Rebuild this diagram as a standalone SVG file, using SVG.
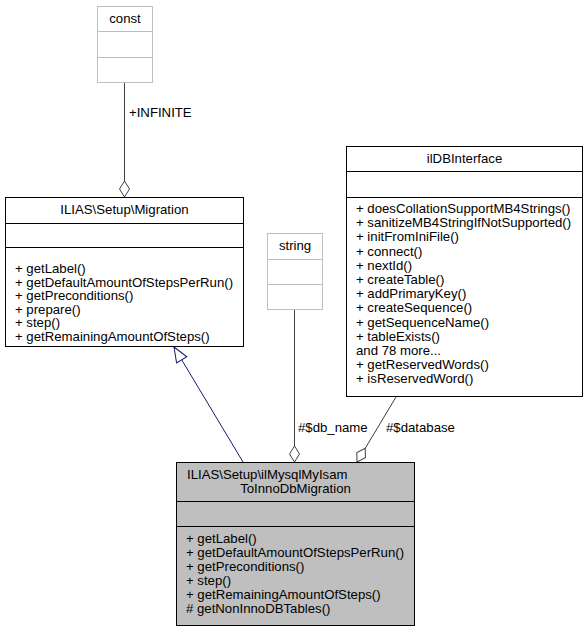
<svg xmlns="http://www.w3.org/2000/svg" width="588" height="632" viewBox="0 0 588 632">
<style>
text{font-family:"Liberation Sans",Arial,sans-serif;font-size:13.2px;fill:#000}
.c{text-anchor:middle}
.box{fill:#fff;stroke:#000;stroke-width:1}
.ext{fill:#fff;stroke:#bfbfbf;stroke-width:1}
.main{fill:#bfbfbf;stroke:#000;stroke-width:1}
.dv{stroke:#000;stroke-width:1}
.dvx{stroke:#bfbfbf;stroke-width:1}
.agg{fill:none;stroke:#404040;stroke-width:1}
.inh{fill:none;stroke:#191970;stroke-width:1}
</style>
<defs>
<marker id="dia" markerUnits="userSpaceOnUse" markerWidth="18" markerHeight="12" viewBox="-1 -6 18 12" refX="16" refY="0" orient="auto">
<path d="M0,0 L8,-5 L16,0 L8,5 Z" fill="#fff" stroke="#404040" stroke-width="1"/>
</marker>
<marker id="tri" markerUnits="userSpaceOnUse" markerWidth="18" markerHeight="14" viewBox="-1 -7 18 14" refX="16" refY="0" orient="auto">
<path d="M1,-6 L16,0 L1,6 Z" fill="#fff" stroke="#191970" stroke-width="1"/>
</marker>
</defs>
<g id="connectors">
<line class="agg" x1="124.5" y1="82" x2="124.5" y2="197" marker-end="url(#dia)"/>
<text x="129" y="117">+INFINITE</text>
<line class="inh" x1="243" y1="462" x2="174" y2="347" marker-end="url(#tri)"/>
<line class="agg" x1="294.5" y1="310" x2="294.5" y2="462" marker-end="url(#dia)"/>
<text x="298" y="432">#$db_name</text>
<line class="agg" x1="396" y1="397" x2="357" y2="462" marker-end="url(#dia)"/>
<text x="386" y="432">#$database</text>
</g>
<g id="const">
<rect class="ext" x="97.5" y="6.5" width="55" height="76"/>
<line class="dvx" x1="97.5" y1="31.5" x2="152.5" y2="31.5"/>
<line class="dvx" x1="97.5" y1="57.5" x2="152.5" y2="57.5"/>
<text class="c" x="125" y="23">const</text>
</g>
<g id="string">
<rect class="ext" x="267.5" y="233.5" width="55" height="76"/>
<line class="dvx" x1="267.5" y1="259.5" x2="322.5" y2="259.5"/>
<line class="dvx" x1="267.5" y1="284.5" x2="322.5" y2="284.5"/>
<text class="c" x="295" y="250">string</text>
</g>
<g id="migration">
<rect class="box" x="5.5" y="197.5" width="238" height="149"/>
<line class="dv" x1="5.5" y1="223.5" x2="243.5" y2="223.5"/>
<line class="dv" x1="5.5" y1="247.5" x2="243.5" y2="247.5"/>
<text class="c" x="124.5" y="214">ILIAS\Setup\Migration</text>
<text x="15" y="273">+ getLabel()</text>
<text x="15" y="286.5">+ getDefaultAmountOfStepsPerRun()</text>
<text x="15" y="300">+ getPreconditions()</text>
<text x="15" y="313.5">+ prepare()</text>
<text x="15" y="327">+ step()</text>
<text x="15" y="340.5">+ getRemainingAmountOfSteps()</text>
</g>
<g id="ilDBInterface">
<rect class="box" x="346.5" y="146.5" width="236" height="250"/>
<line class="dv" x1="346.5" y1="171.5" x2="582.5" y2="171.5"/>
<line class="dv" x1="346.5" y1="197.5" x2="582.5" y2="197.5"/>
<text class="c" x="464.5" y="163">ilDBInterface</text>
<text x="356" y="213">+ doesCollationSupportMB4Strings()</text>
<text x="356" y="227.2">+ sanitizeMB4StringIfNotSupported()</text>
<text x="356" y="241.4">+ initFromIniFile()</text>
<text x="356" y="255.6">+ connect()</text>
<text x="356" y="269.8">+ nextId()</text>
<text x="356" y="284">+ createTable()</text>
<text x="356" y="298.2">+ addPrimaryKey()</text>
<text x="356" y="312.4">+ createSequence()</text>
<text x="356" y="326.6">+ getSequenceName()</text>
<text x="356" y="340.8">+ tableExists()</text>
<text x="356" y="355">and 78 more...</text>
<text x="356" y="369.2">+ getReservedWords()</text>
<text x="356" y="383.4">+ isReservedWord()</text>
</g>
<g id="ilMysqlMyIsamToInnoDbMigration">
<rect class="main" x="176.5" y="462.5" width="238" height="163"/>
<line class="dv" x1="176.5" y1="501.5" x2="414.5" y2="501.5"/>
<line class="dv" x1="176.5" y1="526.5" x2="414.5" y2="526.5"/>
<text x="187" y="479">ILIAS\Setup\ilMysqlMyIsam</text>
<text class="c" x="295.5" y="493">ToInnoDbMigration</text>
<text x="186" y="543">+ getLabel()</text>
<text x="186" y="557">+ getDefaultAmountOfStepsPerRun()</text>
<text x="186" y="571">+ getPreconditions()</text>
<text x="186" y="585">+ step()</text>
<text x="186" y="599">+ getRemainingAmountOfSteps()</text>
<text x="186" y="613"># getNonInnoDBTables()</text>
</g>
</svg>
